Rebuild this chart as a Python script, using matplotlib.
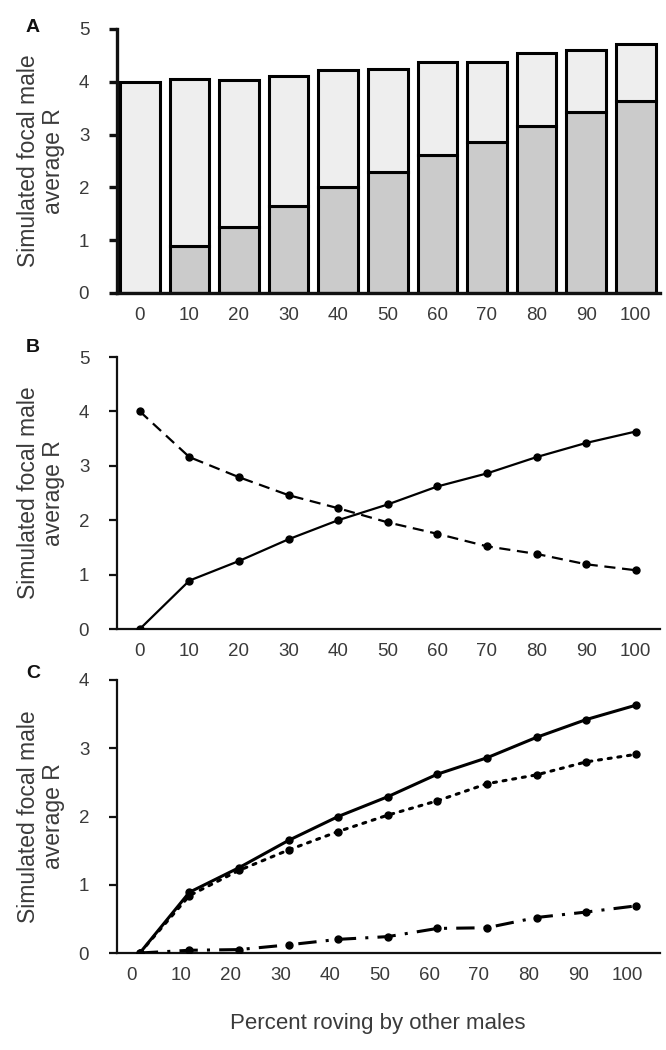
import matplotlib
matplotlib.use("Agg")
import matplotlib.pyplot as plt
import matplotlib.transforms as mtransforms
import numpy as np

plt.rcParams['font.family'] = ['Liberation Sans', 'DejaVu Sans']

# ---- data ----
percent = [0, 10, 20, 30, 40, 50, 60, 70, 80, 90, 100]
tick_labels = [str(p) for p in percent]
roving_R = [0.00, 0.89, 1.25, 1.65, 2.00, 2.29, 2.62, 2.86, 3.16, 3.42, 3.63]
guarding_R = [4.00, 3.16, 2.79, 2.46, 2.22, 1.96, 1.75, 1.52, 1.38, 1.19, 1.08]
component1_R = [0.00, 0.84, 1.21, 1.51, 1.78, 2.02, 2.23, 2.48, 2.61, 2.80, 2.91]
component2_R = [0.00, 0.04, 0.05, 0.12, 0.20, 0.24, 0.36, 0.37, 0.52, 0.60, 0.69]

ylabel = "Simulated focal male\naverage R"
xlabel = "Percent roving by other males"

W, H = 666, 1050
fig = plt.figure(figsize=(W / 100, H / 100), dpi=100)

def ax_rect(top_px, bottom_px, left_px=117, right_px=660):
    return [left_px / W, 1 - bottom_px / H, (right_px - left_px) / W, (bottom_px - top_px) / H]

axA = fig.add_axes(ax_rect(29, 293))
axB = fig.add_axes(ax_rect(357, 629))
axC = fig.add_axes(ax_rect(680, 953))

x = np.arange(len(percent))
text_col = '#3a3a3a'

def style(ax, ymax, spine_w):
    ax.set_xlim(-0.46, 10.49)
    ax.set_ylim(0, ymax)
    ax.set_yticks(range(0, ymax + 1))
    ax.set_xticks(x)
    ax.set_xticklabels(tick_labels)
    for s in ['top', 'right']:
        ax.spines[s].set_visible(False)
    for s in ['left', 'bottom']:
        ax.spines[s].set_linewidth(spine_w)
        ax.spines[s].set_color('#111111')
    ax.tick_params(axis='y', length=6, width=spine_w, direction='out', pad=14,
                   labelsize=13.5, labelcolor=text_col, color='#111111')
    ax.tick_params(axis='x', length=0, pad=10, labelsize=13.5, labelcolor=text_col)
    ax.set_ylabel(ylabel, fontsize=16.5, color=text_col, linespacing=1.15)
    ax.yaxis.label.set_verticalalignment('center')
    tr = mtransforms.blended_transform_factory(fig.transFigure, ax.transAxes)
    ax.yaxis.set_label_coords(41 / W, 0.5, transform=tr)

# Panel A: stacked bars
bw = 0.8
axA.bar(x, roving_R, width=bw, color='#cbcbcb', edgecolor='black', linewidth=2.2, zorder=2)
axA.bar(x, guarding_R, width=bw, bottom=roving_R, color='#eeeeee', edgecolor='black',
        linewidth=2.2, zorder=2)
style(axA, 5, 2.4)

# Panel B: lines
axB.plot(x, roving_R, '-', color='black', lw=1.6, marker='o', ms=5, zorder=3)
axB.plot(x, guarding_R, '--', color='black', lw=1.6, marker='o', ms=5,
         dashes=(5, 3), zorder=3)
style(axB, 5, 1.6)

# Panel C: lines
axC.plot(x, roving_R, '-', color='black', lw=2.2, marker='o', ms=5, zorder=3)
axC.plot(x, component1_R, color='black', lw=2.2, marker='o', ms=5,
         linestyle=(0, (1, 2.2)), dash_capstyle='round', zorder=3)
axC.plot(x, component2_R, color='black', lw=2.2, marker='o', ms=5,
         linestyle=(0, (6, 3, 1, 3)), zorder=3)
style(axC, 4, 1.6)
# shift tick labels in panel C slightly left
offset = mtransforms.ScaledTranslation(-8 / 100, 0, fig.dpi_scale_trans)
for lab in axC.get_xticklabels():
    lab.set_transform(lab.get_transform() + offset)

axC.set_xlabel(xlabel, fontsize=16, color=text_col)
axC.xaxis.label.set_verticalalignment('center')
axC.xaxis.set_label_coords(378 / W, 1 - 1024 / H, transform=fig.transFigure)

# panel letters
for lbl, ypx in [('A', 28), ('B', 347), ('C', 673)]:
    fig.text(33 / W, 1 - ypx / H, lbl, fontsize=14, fontweight='bold',
             ha='center', va='center', color='#111111')

fig.savefig('out.png', dpi=100)
